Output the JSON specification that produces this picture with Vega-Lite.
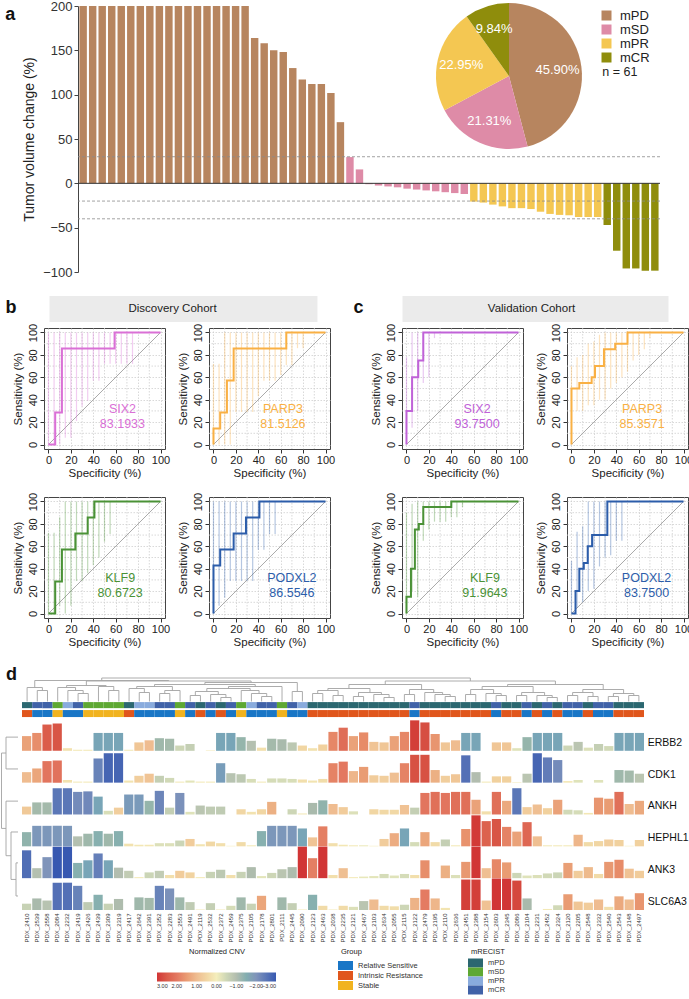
{
"$schema": "https://vega.github.io/schema/vega-lite/v6.json",
"padding": {"left": 0, "top": 0, "right": 0, "bottom": 0},
"config": {"font": "Liberation Sans", "view": {"stroke": null}, "axis": {"labelOverlap": false}},
"resolve": {"scale": {"color": "independent"}, "legend": {"color": "independent"}},
"spacing": 17,
"datasets": {
"wf": [
{"id":"W01","v":200,"r":"mPD"},{"id":"W02","v":200,"r":"mPD"},{"id":"W03","v":200,"r":"mPD"},{"id":"W04","v":200,"r":"mPD"},{"id":"W05","v":200,"r":"mPD"},{"id":"W06","v":200,"r":"mPD"},{"id":"W07","v":200,"r":"mPD"},{"id":"W08","v":200,"r":"mPD"},{"id":"W09","v":200,"r":"mPD"},{"id":"W10","v":200,"r":"mPD"},{"id":"W11","v":200,"r":"mPD"},{"id":"W12","v":200,"r":"mPD"},{"id":"W13","v":200,"r":"mPD"},{"id":"W14","v":200,"r":"mPD"},{"id":"W15","v":200,"r":"mPD"},{"id":"W16","v":200,"r":"mPD"},{"id":"W17","v":200,"r":"mPD"},{"id":"W18","v":200,"r":"mPD"},
{"id":"W19","v":164,"r":"mPD"},{"id":"W20","v":158,"r":"mPD"},{"id":"W21","v":150,"r":"mPD"},{"id":"W22","v":148,"r":"mPD"},{"id":"W23","v":130,"r":"mPD"},{"id":"W24","v":117,"r":"mPD"},{"id":"W25","v":112,"r":"mPD"},{"id":"W26","v":112,"r":"mPD"},{"id":"W27","v":102,"r":"mPD"},{"id":"W28","v":69,"r":"mPD"},
{"id":"W29","v":29.6,"r":"mSD"},{"id":"W30","v":15.7,"r":"mSD"},{"id":"W31","v":-1,"r":"mSD"},{"id":"W32","v":-2.5,"r":"mSD"},{"id":"W33","v":-3.5,"r":"mSD"},{"id":"W34","v":-4.5,"r":"mSD"},{"id":"W35","v":-6,"r":"mSD"},{"id":"W36","v":-7,"r":"mSD"},{"id":"W37","v":-8,"r":"mSD"},{"id":"W38","v":-9,"r":"mSD"},{"id":"W39","v":-10,"r":"mSD"},{"id":"W40","v":-11,"r":"mSD"},{"id":"W41","v":-12,"r":"mSD"},
{"id":"W42","v":-20.6,"r":"mPR"},{"id":"W43","v":-21.7,"r":"mPR"},{"id":"W44","v":-24,"r":"mPR"},{"id":"W45","v":-26,"r":"mPR"},{"id":"W46","v":-28,"r":"mPR"},{"id":"W47","v":-28,"r":"mPR"},{"id":"W48","v":-29,"r":"mPR"},{"id":"W49","v":-32,"r":"mPR"},{"id":"W50","v":-34.5,"r":"mPR"},{"id":"W51","v":-35.6,"r":"mPR"},{"id":"W52","v":-36,"r":"mPR"},{"id":"W53","v":-38,"r":"mPR"},{"id":"W54","v":-38,"r":"mPR"},{"id":"W55","v":-38,"r":"mPR"},
{"id":"W56","v":-47,"r":"mCR"},{"id":"W57","v":-76,"r":"mCR"},{"id":"W58","v":-96,"r":"mCR"},{"id":"W59","v":-96,"r":"mCR"},{"id":"W60","v":-98.5,"r":"mCR"},{"id":"W61","v":-98.5,"r":"mCR"}
],
"cuts": [{"cut":30},{"cut":-20},{"cut":-40}],
"minor": [{"gv":10},{"gv":30},{"gv":50},{"gv":70},{"gv":90}],
"pie": [{"r":"mPD","p":0.459,"o":1},{"r":"mSD","p":0.2131,"o":2},{"r":"mPR","p":0.2295,"o":3},{"r":"mCR","p":0.0984,"o":4}],
"rocD": [
{"g":"SIX2","k":"a","auc":"83.1933"},
{"g":"SIX2","k":"c","x":0,"y":0},{"g":"SIX2","k":"c","x":6,"y":0},{"g":"SIX2","k":"c","x":6,"y":28.6},{"g":"SIX2","k":"c","x":12,"y":28.6},{"g":"SIX2","k":"c","x":12,"y":85.7},{"g":"SIX2","k":"c","x":59,"y":85.7},{"g":"SIX2","k":"c","x":59,"y":100},{"g":"SIX2","k":"c","x":100,"y":100},
{"g":"SIX2","k":"ci","x":0,"lo":0,"hi":100},{"g":"SIX2","k":"ci","x":5,"lo":0,"hi":100},{"g":"SIX2","k":"ci","x":10,"lo":0,"hi":100},{"g":"SIX2","k":"ci","x":15,"lo":6,"hi":100},{"g":"SIX2","k":"ci","x":20,"lo":6,"hi":100},{"g":"SIX2","k":"ci","x":25,"lo":21,"hi":100},{"g":"SIX2","k":"ci","x":30,"lo":34,"hi":100},{"g":"SIX2","k":"ci","x":35,"lo":39,"hi":100},{"g":"SIX2","k":"ci","x":40,"lo":57,"hi":100},{"g":"SIX2","k":"ci","x":45,"lo":57,"hi":100},{"g":"SIX2","k":"ci","x":50,"lo":72,"hi":100},{"g":"SIX2","k":"ci","x":55,"lo":72,"hi":100},{"g":"SIX2","k":"ci","x":60,"lo":72,"hi":100},{"g":"SIX2","k":"ci","x":65,"lo":72,"hi":100},{"g":"SIX2","k":"ci","x":70,"lo":72,"hi":100},{"g":"SIX2","k":"ci","x":75,"lo":72,"hi":100},
{"g":"PARP3","k":"a","auc":"81.5126"},
{"g":"PARP3","k":"c","x":0,"y":0},{"g":"PARP3","k":"c","x":0,"y":14.3},{"g":"PARP3","k":"c","x":6,"y":14.3},{"g":"PARP3","k":"c","x":6,"y":28.6},{"g":"PARP3","k":"c","x":12,"y":28.6},{"g":"PARP3","k":"c","x":12,"y":57.1},{"g":"PARP3","k":"c","x":18,"y":57.1},{"g":"PARP3","k":"c","x":18,"y":85.7},{"g":"PARP3","k":"c","x":65,"y":85.7},{"g":"PARP3","k":"c","x":65,"y":100},{"g":"PARP3","k":"c","x":100,"y":100},
{"g":"PARP3","k":"ci","x":0,"lo":0,"hi":72},{"g":"PARP3","k":"ci","x":5,"lo":0,"hi":72},{"g":"PARP3","k":"ci","x":10,"lo":0,"hi":100},{"g":"PARP3","k":"ci","x":15,"lo":0,"hi":100},{"g":"PARP3","k":"ci","x":20,"lo":29,"hi":100},{"g":"PARP3","k":"ci","x":25,"lo":29,"hi":100},{"g":"PARP3","k":"ci","x":30,"lo":29,"hi":100},{"g":"PARP3","k":"ci","x":35,"lo":29,"hi":100},{"g":"PARP3","k":"ci","x":40,"lo":43,"hi":100},{"g":"PARP3","k":"ci","x":45,"lo":57,"hi":100},{"g":"PARP3","k":"ci","x":50,"lo":57,"hi":100},{"g":"PARP3","k":"ci","x":55,"lo":57,"hi":100},{"g":"PARP3","k":"ci","x":60,"lo":62,"hi":100},{"g":"PARP3","k":"ci","x":65,"lo":71,"hi":100},{"g":"PARP3","k":"ci","x":70,"lo":71,"hi":100},{"g":"PARP3","k":"ci","x":75,"lo":86,"hi":100},{"g":"PARP3","k":"ci","x":80,"lo":86,"hi":100},
{"g":"KLF9","k":"a","auc":"80.6723"},
{"g":"KLF9","k":"c","x":0,"y":0},{"g":"KLF9","k":"c","x":6,"y":0},{"g":"KLF9","k":"c","x":6,"y":28.6},{"g":"KLF9","k":"c","x":12,"y":28.6},{"g":"KLF9","k":"c","x":12,"y":57.1},{"g":"KLF9","k":"c","x":24,"y":57.1},{"g":"KLF9","k":"c","x":24,"y":71.4},{"g":"KLF9","k":"c","x":35,"y":71.4},{"g":"KLF9","k":"c","x":35,"y":85.7},{"g":"KLF9","k":"c","x":41,"y":85.7},{"g":"KLF9","k":"c","x":41,"y":100},{"g":"KLF9","k":"c","x":100,"y":100},
{"g":"KLF9","k":"ci","x":0,"lo":0,"hi":72},{"g":"KLF9","k":"ci","x":5,"lo":0,"hi":72},{"g":"KLF9","k":"ci","x":10,"lo":7,"hi":86},{"g":"KLF9","k":"ci","x":15,"lo":0,"hi":100},{"g":"KLF9","k":"ci","x":20,"lo":7,"hi":100},{"g":"KLF9","k":"ci","x":25,"lo":29,"hi":100},{"g":"KLF9","k":"ci","x":30,"lo":29,"hi":100},{"g":"KLF9","k":"ci","x":35,"lo":36,"hi":100},{"g":"KLF9","k":"ci","x":40,"lo":43,"hi":100},{"g":"KLF9","k":"ci","x":45,"lo":50,"hi":100},{"g":"KLF9","k":"ci","x":50,"lo":64,"hi":100},{"g":"KLF9","k":"ci","x":55,"lo":71,"hi":100},
{"g":"PODXL2","k":"a","auc":"86.5546"},
{"g":"PODXL2","k":"c","x":0,"y":0},{"g":"PODXL2","k":"c","x":0,"y":42.9},{"g":"PODXL2","k":"c","x":6,"y":42.9},{"g":"PODXL2","k":"c","x":6,"y":57.1},{"g":"PODXL2","k":"c","x":18,"y":57.1},{"g":"PODXL2","k":"c","x":18,"y":71.4},{"g":"PODXL2","k":"c","x":29,"y":71.4},{"g":"PODXL2","k":"c","x":29,"y":85.7},{"g":"PODXL2","k":"c","x":41,"y":85.7},{"g":"PODXL2","k":"c","x":41,"y":100},{"g":"PODXL2","k":"c","x":100,"y":100},
{"g":"PODXL2","k":"ci","x":0,"lo":0,"hi":100},{"g":"PODXL2","k":"ci","x":5,"lo":7,"hi":100},{"g":"PODXL2","k":"ci","x":10,"lo":14,"hi":100},{"g":"PODXL2","k":"ci","x":15,"lo":29,"hi":100},{"g":"PODXL2","k":"ci","x":20,"lo":29,"hi":100},{"g":"PODXL2","k":"ci","x":25,"lo":29,"hi":100},{"g":"PODXL2","k":"ci","x":30,"lo":29,"hi":100},{"g":"PODXL2","k":"ci","x":35,"lo":29,"hi":100},{"g":"PODXL2","k":"ci","x":40,"lo":57,"hi":100},{"g":"PODXL2","k":"ci","x":45,"lo":57,"hi":100},{"g":"PODXL2","k":"ci","x":50,"lo":71,"hi":100},{"g":"PODXL2","k":"ci","x":55,"lo":71,"hi":100}
],
"rocV": [
{"g":"SIX2","k":"a","auc":"93.7500"},
{"g":"SIX2","k":"c","x":0,"y":0},{"g":"SIX2","k":"c","x":0,"y":30},{"g":"SIX2","k":"c","x":5,"y":30},{"g":"SIX2","k":"c","x":5,"y":60},{"g":"SIX2","k":"c","x":10.5,"y":60},{"g":"SIX2","k":"c","x":10.5,"y":75},{"g":"SIX2","k":"c","x":15,"y":75},{"g":"SIX2","k":"c","x":15,"y":100},{"g":"SIX2","k":"c","x":100,"y":100},
{"g":"SIX2","k":"ci","x":0,"lo":15,"hi":78},{"g":"SIX2","k":"ci","x":5,"lo":15,"hi":100},{"g":"SIX2","k":"ci","x":10,"lo":30,"hi":100},{"g":"SIX2","k":"ci","x":15,"lo":55,"hi":100},{"g":"SIX2","k":"ci","x":20,"lo":60,"hi":100},{"g":"SIX2","k":"ci","x":25,"lo":95,"hi":100},
{"g":"PARP3","k":"a","auc":"85.3571"},
{"g":"PARP3","k":"c","x":0,"y":0},{"g":"PARP3","k":"c","x":0,"y":50},{"g":"PARP3","k":"c","x":7,"y":50},{"g":"PARP3","k":"c","x":7,"y":55},{"g":"PARP3","k":"c","x":18,"y":55},{"g":"PARP3","k":"c","x":18,"y":60},{"g":"PARP3","k":"c","x":21,"y":60},{"g":"PARP3","k":"c","x":21,"y":70},{"g":"PARP3","k":"c","x":29,"y":70},{"g":"PARP3","k":"c","x":29,"y":85},{"g":"PARP3","k":"c","x":39,"y":85},{"g":"PARP3","k":"c","x":39,"y":90},{"g":"PARP3","k":"c","x":50,"y":90},{"g":"PARP3","k":"c","x":50,"y":100},{"g":"PARP3","k":"c","x":100,"y":100},
{"g":"PARP3","k":"ci","x":0,"lo":30,"hi":70},{"g":"PARP3","k":"ci","x":5,"lo":30,"hi":78},{"g":"PARP3","k":"ci","x":10,"lo":30,"hi":80},{"g":"PARP3","k":"ci","x":15,"lo":35,"hi":90},{"g":"PARP3","k":"ci","x":20,"lo":35,"hi":92},{"g":"PARP3","k":"ci","x":25,"lo":40,"hi":98},{"g":"PARP3","k":"ci","x":30,"lo":40,"hi":100},{"g":"PARP3","k":"ci","x":35,"lo":50,"hi":100},{"g":"PARP3","k":"ci","x":40,"lo":55,"hi":100},{"g":"PARP3","k":"ci","x":45,"lo":60,"hi":100},{"g":"PARP3","k":"ci","x":50,"lo":65,"hi":100},{"g":"PARP3","k":"ci","x":55,"lo":75,"hi":100},{"g":"PARP3","k":"ci","x":60,"lo":80,"hi":100},{"g":"PARP3","k":"ci","x":65,"lo":85,"hi":100},{"g":"PARP3","k":"ci","x":70,"lo":95,"hi":100},
{"g":"KLF9","k":"a","auc":"91.9643"},
{"g":"KLF9","k":"c","x":0,"y":0},{"g":"KLF9","k":"c","x":0,"y":15},{"g":"KLF9","k":"c","x":4,"y":15},{"g":"KLF9","k":"c","x":4,"y":40},{"g":"KLF9","k":"c","x":7.5,"y":40},{"g":"KLF9","k":"c","x":7.5,"y":75},{"g":"KLF9","k":"c","x":11,"y":75},{"g":"KLF9","k":"c","x":11,"y":80},{"g":"KLF9","k":"c","x":15,"y":80},{"g":"KLF9","k":"c","x":15,"y":95},{"g":"KLF9","k":"c","x":40,"y":95},{"g":"KLF9","k":"c","x":40,"y":100},{"g":"KLF9","k":"c","x":100,"y":100},
{"g":"KLF9","k":"ci","x":0,"lo":0,"hi":90},{"g":"KLF9","k":"ci","x":5,"lo":20,"hi":98},{"g":"KLF9","k":"ci","x":10,"lo":15,"hi":100},{"g":"KLF9","k":"ci","x":15,"lo":65,"hi":100},{"g":"KLF9","k":"ci","x":20,"lo":75,"hi":100},{"g":"KLF9","k":"ci","x":25,"lo":82,"hi":100},{"g":"KLF9","k":"ci","x":30,"lo":82,"hi":100},{"g":"KLF9","k":"ci","x":35,"lo":82,"hi":100},{"g":"KLF9","k":"ci","x":40,"lo":86,"hi":100},{"g":"KLF9","k":"ci","x":45,"lo":86,"hi":100},{"g":"KLF9","k":"ci","x":50,"lo":95,"hi":100},
{"g":"PODXL2","k":"a","auc":"83.7500"},
{"g":"PODXL2","k":"c","x":0,"y":0},{"g":"PODXL2","k":"c","x":3.6,"y":0},{"g":"PODXL2","k":"c","x":3.6,"y":20},{"g":"PODXL2","k":"c","x":7,"y":20},{"g":"PODXL2","k":"c","x":7,"y":40},{"g":"PODXL2","k":"c","x":11,"y":40},{"g":"PODXL2","k":"c","x":11,"y":45},{"g":"PODXL2","k":"c","x":14.5,"y":45},{"g":"PODXL2","k":"c","x":14.5,"y":60},{"g":"PODXL2","k":"c","x":18.4,"y":60},{"g":"PODXL2","k":"c","x":18.4,"y":70},{"g":"PODXL2","k":"c","x":32,"y":70},{"g":"PODXL2","k":"c","x":32,"y":100},{"g":"PODXL2","k":"c","x":100,"y":100},
{"g":"PODXL2","k":"ci","x":0,"lo":0,"hi":47},{"g":"PODXL2","k":"ci","x":5,"lo":5,"hi":73},{"g":"PODXL2","k":"ci","x":10,"lo":10,"hi":78},{"g":"PODXL2","k":"ci","x":15,"lo":20,"hi":100},{"g":"PODXL2","k":"ci","x":20,"lo":22,"hi":100},{"g":"PODXL2","k":"ci","x":25,"lo":42,"hi":100},{"g":"PODXL2","k":"ci","x":30,"lo":50,"hi":100},{"g":"PODXL2","k":"ci","x":35,"lo":52,"hi":100},{"g":"PODXL2","k":"ci","x":40,"lo":65,"hi":100},{"g":"PODXL2","k":"ci","x":45,"lo":65,"hi":100}
],
"hm": [
{"s":"PDX_2410","m":"mPD","grp":"Intrinsic Resistance","ERBB2":1.4,"CDK1":1.0,"ANKH":0.75,"HEPHL1":-1.35,"ANK3":-2.65,"SLC6A3":-0.6},
{"s":"PDX_2539","m":"mCR","grp":"Relative Sensitive","ERBB2":1.7,"CDK1":1.35,"ANKH":-1.15,"HEPHL1":-1.95,"ANK3":-0.95,"SLC6A3":-1.1},
{"s":"PDX_2558","m":"mCR","grp":"Relative Sensitive","ERBB2":2.5,"CDK1":2.05,"ANKH":-1.15,"HEPHL1":-1.95,"ANK3":-2.0,"SLC6A3":-0.9},
{"s":"PDX_2084","m":"mSD","grp":"Stable","ERBB2":2.6,"CDK1":2.1,"ANKH":-2.5,"HEPHL1":-1.95,"ANK3":-3.0,"SLC6A3":-2.6},
{"s":"PDX_2232","m":"mPR","grp":"Relative Sensitive","ERBB2":0.25,"CDK1":0.25,"ANKH":-2.5,"HEPHL1":-1.95,"ANK3":-3.0,"SLC6A3":-2.6},
{"s":"PDX_2419","m":"mCR","grp":"Relative Sensitive","ERBB2":0.1,"CDK1":0.1,"ANKH":-2.15,"HEPHL1":-0.95,"ANK3":-1.45,"SLC6A3":-2.3},
{"s":"PDX_2426","m":"mSD","grp":"Stable","ERBB2":0.1,"CDK1":0.1,"ANKH":-2.2,"HEPHL1":-1.2,"ANK3":-1.7,"SLC6A3":-0.75},
{"s":"PDX_2439","m":"mSD","grp":"Stable","ERBB2":-1.7,"CDK1":-2.3,"ANKH":-1.7,"HEPHL1":-1.45,"ANK3":-2.35,"SLC6A3":-1.45},
{"s":"PDX_2309","m":"mSD","grp":"Stable","ERBB2":-1.7,"CDK1":-2.8,"ANKH":-0.35,"HEPHL1":-1.2,"ANK3":-1.7,"SLC6A3":-0.6},
{"s":"PDX_2319","m":"mSD","grp":"Stable","ERBB2":-1.7,"CDK1":-2.8,"ANKH":0.65,"HEPHL1":-1.45,"ANK3":-1.0,"SLC6A3":-1.05},
{"s":"PDX_2417","m":"mPD","grp":"Intrinsic Resistance","ERBB2":0.1,"CDK1":0.2,"ANKH":-1.9,"HEPHL1":0.25,"ANK3":-0.7,"SLC6A3":0},
{"s":"PDX_2642","m":"mPR","grp":"Relative Sensitive","ERBB2":0.8,"CDK1":0.65,"ANKH":-1.9,"HEPHL1":0.15,"ANK3":0.1,"SLC6A3":-1.2},
{"s":"PDX_2391","m":"mPR","grp":"Relative Sensitive","ERBB2":1.0,"CDK1":0.85,"ANKH":-1.3,"HEPHL1":0.15,"ANK3":-0.55,"SLC6A3":-1.15},
{"s":"PDX_2352","m":"mCR","grp":"Relative Sensitive","ERBB2":-1.2,"CDK1":-0.65,"ANKH":-2.25,"HEPHL1":-0.3,"ANK3":-0.7,"SLC6A3":-2.3},
{"s":"PDX_2283","m":"mCR","grp":"Relative Sensitive","ERBB2":-1.15,"CDK1":-0.45,"ANKH":-0.65,"HEPHL1":-0.3,"ANK3":0.3,"SLC6A3":-2.05},
{"s":"PDX_2553","m":"mSD","grp":"Stable","ERBB2":-0.5,"CDK1":0.1,"ANKH":-2.05,"HEPHL1":-0.55,"ANK3":0.7,"SLC6A3":-1.2},
{"s":"PDX_2491","m":"mCR","grp":"Relative Sensitive","ERBB2":-0.65,"CDK1":-0.2,"ANKH":-0.25,"HEPHL1":0.7,"ANK3":0.55,"SLC6A3":-0.75},
{"s":"PDX_2119","m":"mPD","grp":"Intrinsic Resistance","ERBB2":0,"CDK1":0.1,"ANKH":-0.85,"HEPHL1":0.2,"ANK3":0.1,"SLC6A3":0.05},
{"s":"PDX_2532","m":"mCR","grp":"Relative Sensitive","ERBB2":0.05,"CDK1":0.1,"ANKH":-0.75,"HEPHL1":0.45,"ANK3":-0.6,"SLC6A3":-0.65},
{"s":"PDX_2372","m":"mPD","grp":"Intrinsic Resistance","ERBB2":-1.7,"CDK1":-1.85,"ANKH":-0.75,"HEPHL1":0.3,"ANK3":-0.8,"SLC6A3":0.05},
{"s":"PDX_2459","m":"mCR","grp":"Relative Sensitive","ERBB2":-1.7,"CDK1":-0.9,"ANKH":0,"HEPHL1":0.05,"ANK3":0.3,"SLC6A3":-0.4},
{"s":"PDX_2375","m":"mSD","grp":"Stable","ERBB2":-1.3,"CDK1":-0.8,"ANKH":0.5,"HEPHL1":0.4,"ANK3":-0.6,"SLC6A3":-1.2},
{"s":"PDX_2105","m":"mPR","grp":"Relative Sensitive","ERBB2":-0.95,"CDK1":-0.35,"ANKH":0.25,"HEPHL1":0.1,"ANK3":-1.05,"SLC6A3":-0.6},
{"s":"PDX_2178","m":"mCR","grp":"Relative Sensitive","ERBB2":0.3,"CDK1":0.1,"ANKH":0.5,"HEPHL1":-1.45,"ANK3":-0.2,"SLC6A3":1.35},
{"s":"PDX_2801","m":"mCR","grp":"Relative Sensitive","ERBB2":-1.15,"CDK1":-0.4,"ANKH":1.2,"HEPHL1":-1.95,"ANK3":-0.5,"SLC6A3":0},
{"s":"PDX_2111","m":"mSD","grp":"Stable","ERBB2":-1.1,"CDK1":-0.4,"ANKH":0,"HEPHL1":-1.95,"ANK3":-0.85,"SLC6A3":-1.2},
{"s":"PDX_2445","m":"mCR","grp":"Relative Sensitive","ERBB2":-0.8,"CDK1":-0.35,"ANKH":-0.5,"HEPHL1":-1.95,"ANK3":-1.05,"SLC6A3":-0.65},
{"s":"PDX_2090","m":"mPR","grp":"Relative Sensitive","ERBB2":0.5,"CDK1":0.3,"ANKH":0.1,"HEPHL1":-1.7,"ANK3":3.0,"SLC6A3":0.05},
{"s":"PDX_2123","m":"mPD","grp":"Intrinsic Resistance","ERBB2":0.25,"CDK1":0.2,"ANKH":-1.1,"HEPHL1":0.85,"ANK3":1.9,"SLC6A3":-1.45},
{"s":"PDX_2463","m":"mPD","grp":"Intrinsic Resistance","ERBB2":0.6,"CDK1":0.35,"ANKH":-1.35,"HEPHL1":1.9,"ANK3":3.0,"SLC6A3":0.4},
{"s":"PDX_2038","m":"mPD","grp":"Intrinsic Resistance","ERBB2":1.8,"CDK1":1.85,"ANKH":1.0,"HEPHL1":0.3,"ANK3":0.3,"SLC6A3":0.05},
{"s":"PDX_2235","m":"mPD","grp":"Intrinsic Resistance","ERBB2":2.2,"CDK1":2.0,"ANKH":0.7,"HEPHL1":0.15,"ANK3":0.95,"SLC6A3":0.4},
{"s":"PDX_2121","m":"mPD","grp":"Intrinsic Resistance","ERBB2":1.4,"CDK1":1.1,"ANKH":-0.3,"HEPHL1":0.1,"ANK3":0.1,"SLC6A3":-0.3},
{"s":"PDX_2467","m":"mPD","grp":"Intrinsic Resistance","ERBB2":1.75,"CDK1":1.5,"ANKH":0,"HEPHL1":-0.1,"ANK3":-0.15,"SLC6A3":-0.85},
{"s":"PDX_2103","m":"mPD","grp":"Intrinsic Resistance","ERBB2":0.85,"CDK1":0.7,"ANKH":0.5,"HEPHL1":0.05,"ANK3":-0.2,"SLC6A3":1.0},
{"s":"PDX_2634","m":"mPD","grp":"Intrinsic Resistance","ERBB2":0.8,"CDK1":0.65,"ANKH":0.45,"HEPHL1":0.7,"ANK3":-0.4,"SLC6A3":0.4},
{"s":"PDX_2055","m":"mPD","grp":"Intrinsic Resistance","ERBB2":1.4,"CDK1":0.95,"ANKH":0.45,"HEPHL1":1.25,"ANK3":-0.25,"SLC6A3":0.35},
{"s":"PDX_2115","m":"mPD","grp":"Intrinsic Resistance","ERBB2":1.8,"CDK1":1.85,"ANKH":0.9,"HEPHL1":-1.7,"ANK3":-0.4,"SLC6A3":-0.5},
{"s":"PDX_2122","m":"mCR","grp":"Relative Sensitive","ERBB2":2.9,"CDK1":2.65,"ANKH":-0.65,"HEPHL1":-0.4,"ANK3":0.3,"SLC6A3":1.15},
{"s":"PDX_2479","m":"mPD","grp":"Intrinsic Resistance","ERBB2":2.7,"CDK1":2.65,"ANKH":2.05,"HEPHL1":1.35,"ANK3":1.7,"SLC6A3":1.95},
{"s":"PDX_2195","m":"mPD","grp":"Intrinsic Resistance","ERBB2":1.6,"CDK1":1.2,"ANKH":2.15,"HEPHL1":0.4,"ANK3":0,"SLC6A3":1.1},
{"s":"PDX_2110","m":"mPD","grp":"Intrinsic Resistance","ERBB2":0.8,"CDK1":0.65,"ANKH":2.05,"HEPHL1":-0.65,"ANK3":1.2,"SLC6A3":0.2},
{"s":"PDX_2636","m":"mPD","grp":"Intrinsic Resistance","ERBB2":1.0,"CDK1":0.8,"ANKH":2.15,"HEPHL1":0.1,"ANK3":-0.3,"SLC6A3":0},
{"s":"PDX_2451","m":"mPD","grp":"Intrinsic Resistance","ERBB2":-1.7,"CDK1":-2.6,"ANKH":2.15,"HEPHL1":1.65,"ANK3":1.55,"SLC6A3":2.9},
{"s":"PDX_2388","m":"mPD","grp":"Intrinsic Resistance","ERBB2":-1.7,"CDK1":-1.0,"ANKH":1.4,"HEPHL1":2.95,"ANK3":3.0,"SLC6A3":2.9},
{"s":"PDX_2154","m":"mPD","grp":"Intrinsic Resistance","ERBB2":0,"CDK1":0.1,"ANKH":0.3,"HEPHL1":2.4,"ANK3":0.95,"SLC6A3":0.9},
{"s":"PDX_2603","m":"mCR","grp":"Relative Sensitive","ERBB2":0.8,"CDK1":0.6,"ANKH":2.15,"HEPHL1":2.6,"ANK3":1.8,"SLC6A3":3.0},
{"s":"PDX_2345","m":"mPD","grp":"Intrinsic Resistance","ERBB2":0.8,"CDK1":0.6,"ANKH":1.3,"HEPHL1":1.85,"ANK3":1.5,"SLC6A3":3.0},
{"s":"PDX_2086","m":"mPD","grp":"Intrinsic Resistance","ERBB2":-0.25,"CDK1":0.05,"ANKH":-2.5,"HEPHL1":1.4,"ANK3":-0.5,"SLC6A3":2.8},
{"s":"PDX_2104","m":"mCR","grp":"Relative Sensitive","ERBB2":-1.3,"CDK1":-0.85,"ANKH":0.7,"HEPHL1":2.3,"ANK3":-0.25,"SLC6A3":-1.1},
{"s":"PDX_2231","m":"mPD","grp":"Intrinsic Resistance","ERBB2":-1.7,"CDK1":-2.8,"ANKH":0.95,"HEPHL1":0.95,"ANK3":-0.3,"SLC6A3":0},
{"s":"PDX_2452","m":"mCR","grp":"Relative Sensitive","ERBB2":-1.7,"CDK1":-2.4,"ANKH":0.6,"HEPHL1":0.1,"ANK3":-0.45,"SLC6A3":0.1},
{"s":"PDX_2324","m":"mPD","grp":"Intrinsic Resistance","ERBB2":-1.7,"CDK1":-2.15,"ANKH":1.4,"HEPHL1":0.1,"ANK3":-0.55,"SLC6A3":-0.45},
{"s":"PDX_2120","m":"mCR","grp":"Relative Sensitive","ERBB2":-0.5,"CDK1":0.15,"ANKH":-0.45,"HEPHL1":0.1,"ANK3":1.45,"SLC6A3":1.5},
{"s":"PDX_2205","m":"mCR","grp":"Relative Sensitive","ERBB2":-0.85,"CDK1":-0.25,"ANKH":-0.4,"HEPHL1":1.1,"ANK3":0.7,"SLC6A3":0.8},
{"s":"PDX_2548","m":"mPD","grp":"Intrinsic Resistance","ERBB2":-0.3,"CDK1":0,"ANKH":0.15,"HEPHL1":0.4,"ANK3":1.05,"SLC6A3":0.7},
{"s":"PDX_2332","m":"mCR","grp":"Relative Sensitive","ERBB2":-0.65,"CDK1":-0.25,"ANKH":1.6,"HEPHL1":0.5,"ANK3":0.4,"SLC6A3":1.0},
{"s":"PDX_2540","m":"mCR","grp":"Relative Sensitive","ERBB2":-0.45,"CDK1":0,"ANKH":1.5,"HEPHL1":0.65,"ANK3":1.55,"SLC6A3":0.3},
{"s":"PDX_2543","m":"mPD","grp":"Intrinsic Resistance","ERBB2":-1.7,"CDK1":-1.2,"ANKH":2.15,"HEPHL1":0.6,"ANK3":1.75,"SLC6A3":1.3},
{"s":"PDX_2148","m":"mPD","grp":"Intrinsic Resistance","ERBB2":-1.7,"CDK1":-1.15,"ANKH":1.0,"HEPHL1":0.05,"ANK3":0.9,"SLC6A3":1.0},
{"s":"PDX_2497","m":"mPD","grp":"Intrinsic Resistance","ERBB2":-1.7,"CDK1":-0.85,"ANKH":1.3,"HEPHL1":0.6,"ANK3":0.7,"SLC6A3":1.6}
],
"cd": [
{"a":1,"ha":0,"b":2,"hb":0,"h":11},{"a":0,"ha":0,"b":1.5,"hb":11,"h":14},{"a":5,"ha":0,"b":6,"hb":0,"h":8},{"a":4,"ha":0,"b":5.5,"hb":8,"h":11},{"a":3,"ha":0,"b":4.75,"hb":11,"h":14},{"a":8,"ha":0,"b":9,"hb":0,"h":11},{"a":7,"ha":0,"b":8.5,"hb":11,"h":15},{"a":3.875,"ha":14,"b":7.75,"hb":15,"h":16},
{"a":11,"ha":0,"b":12,"hb":0,"h":9},{"a":10,"ha":0,"b":11.5,"hb":9,"h":13},{"a":13,"ha":0,"b":14,"hb":0,"h":8},{"a":13.5,"ha":8,"b":15,"hb":0,"h":11},{"a":10.75,"ha":13,"b":14.25,"hb":11,"h":15},
{"a":16,"ha":0,"b":17,"hb":0,"h":6},{"a":19,"ha":0,"b":20,"hb":0,"h":4},{"a":18,"ha":0,"b":19.5,"hb":4,"h":7},{"a":16.5,"ha":6,"b":18.75,"hb":7,"h":10},
{"a":23,"ha":0,"b":24,"hb":0,"h":5},{"a":22,"ha":0,"b":23.5,"hb":5,"h":8},{"a":21,"ha":0,"b":22.75,"hb":8,"h":11},{"a":17.625,"ha":10,"b":21.875,"hb":11,"h":13},{"a":19.75,"ha":13,"b":25,"hb":0,"h":15},{"a":12.5,"ha":15,"b":22.375,"hb":15,"h":17},
{"a":26,"ha":0,"b":27,"hb":0,"h":10},{"a":17.4375,"ha":17,"b":26.5,"hb":10,"h":19},{"a":5.8125,"ha":16,"b":21.96875,"hb":19,"h":20.5},{"a":0.75,"ha":14,"b":13.890625,"hb":20.5,"h":21},
{"a":28,"ha":0,"b":29,"hb":0,"h":8},{"a":30,"ha":0,"b":31,"hb":0,"h":6},{"a":28.5,"ha":8,"b":30.5,"hb":6,"h":11},{"a":32,"ha":0,"b":33,"hb":0,"h":5},{"a":35,"ha":0,"b":36,"hb":0,"h":4},{"a":34,"ha":0,"b":35.5,"hb":4,"h":7},{"a":32.5,"ha":5,"b":34.75,"hb":7,"h":9},{"a":29.5,"ha":11,"b":33.625,"hb":9,"h":13},
{"a":37,"ha":0,"b":38,"hb":0,"h":7},{"a":41,"ha":0,"b":42,"hb":0,"h":5},{"a":40,"ha":0,"b":41.5,"hb":5,"h":7},{"a":39,"ha":0,"b":40.75,"hb":7,"h":9},{"a":37.5,"ha":7,"b":39.875,"hb":9,"h":12},{"a":31.5625,"ha":13,"b":38.6875,"hb":12,"h":17},
{"a":43,"ha":0,"b":44,"hb":0,"h":7},{"a":46,"ha":0,"b":47,"hb":0,"h":6},{"a":45,"ha":0,"b":46.5,"hb":6,"h":8},{"a":43.5,"ha":7,"b":45.75,"hb":8,"h":12},{"a":48,"ha":0,"b":49,"hb":0,"h":6},{"a":51,"ha":0,"b":52,"hb":0,"h":4},{"a":50,"ha":0,"b":51.5,"hb":4,"h":6},{"a":48.5,"ha":6,"b":50.75,"hb":6,"h":9},{"a":44.625,"ha":12,"b":49.625,"hb":9,"h":15},
{"a":53,"ha":0,"b":54,"hb":0,"h":6},{"a":55,"ha":0,"b":56,"hb":0,"h":5},{"a":53.5,"ha":6,"b":55.5,"hb":5,"h":9},{"a":57,"ha":0,"b":58,"hb":0,"h":5},{"a":59,"ha":0,"b":60,"hb":0,"h":6},{"a":57.5,"ha":5,"b":59.5,"hb":6,"h":8},{"a":54.5,"ha":9,"b":58.5,"hb":8,"h":12},{"a":47.125,"ha":15,"b":56.5,"hb":12,"h":17},
{"a":35.125,"ha":17,"b":51.8125,"hb":17,"h":20.5},{"a":7.3203,"ha":21,"b":43.46875,"hb":20.5,"h":23.5}
],
"rd": [
{"a":5.43,"ha":0,"b":4.43,"hb":0,"h":12},{"a":1.48,"ha":0,"b":0.44,"hb":0,"h":2},{"a":2.45,"ha":0,"b":0.96,"hb":2,"h":7},{"a":3.42,"ha":0,"b":1.705,"hb":7,"h":12},{"a":4.93,"ha":12,"b":2.5625,"hb":12,"h":16.5}
]
},
"vconcat": [
{"spacing": 4, "resolve": {"scale": {"color": "independent"}, "legend": {"color": "independent"}}, "hconcat": [
{"width": 1, "height": 1, "data": {"values": []}, "mark": {"type": "point"}, "encoding": {}},
{
"width": 582, "height": 266,
"resolve": {"scale": {"x": "independent", "y": "independent"}},
"layer": [
{"layer": [
{"data": {"name": "wf"}, "mark": {"type": "bar"},
"encoding": {
"x": {"field": "id", "type": "nominal", "sort": null, "axis": null, "scale": {"paddingInner": 0.22, "paddingOuter": 0.15}},
"y": {"field": "v", "type": "quantitative", "scale": {"domain": [-100, 200], "nice": false},
"axis": {"values": [-100, -50, 0, 50, 100, 150, 200], "tickCount": 12, "title": "Tumor volume change (%)", "titleFontSize": 14, "titleFontWeight": "normal", "titleColor": "#222", "labelFontSize": 13, "labelColor": "#333", "domainColor": "#444", "tickColor": "#444", "tickSize": 4, "grid": false, "titlePadding": 6}},
"color": {"field": "r", "type": "nominal", "scale": {"domain": ["mPD", "mSD", "mPR", "mCR"], "range": ["#B7855F", "#DE8BA7", "#F4C752", "#8F8D0C"]},
"legend": {"title": null, "orient": "none", "legendX": 522, "legendY": 3, "direction": "vertical", "symbolType": "square", "symbolSize": 100, "labelFontSize": 13, "labelColor": "#222", "rowPadding": -1.5, "symbolStrokeWidth": 0, "labelOffset": 7}}
}},
{"data": {"name": "cuts"}, "mark": {"type": "rule", "strokeDash": [3, 2], "color": "#8c8c8c", "strokeWidth": 0.8},
"encoding": {"y": {"field": "cut", "type": "quantitative"}}},
{"data": {"values": [{}]}, "mark": {"type": "rule", "color": "#333", "strokeWidth": 1},
"encoding": {"y": {"datum": 0, "type": "quantitative"}}}
]},
{"layer": [
{"data": {"name": "pie"}, "mark": {"type": "arc", "outerRadius": 73},
"encoding": {
"x": {"datum": 0.7405, "type": "quantitative", "scale": {"domain": [0, 1], "nice": false, "zero": false}, "axis": null},
"y": {"datum": 0.737, "type": "quantitative", "scale": {"domain": [0, 1], "nice": false, "zero": false}, "axis": null},
"theta": {"field": "p", "type": "quantitative", "stack": true},
"order": {"field": "o", "type": "quantitative"},
"color": {"field": "r", "type": "nominal"}
}},
{"data": {"name": "pie"}, "mark": {"type": "text", "radius": 49, "fontSize": 13, "color": "white"},
"encoding": {
"x": {"datum": 0.7405, "type": "quantitative"},
"y": {"datum": 0.737, "type": "quantitative"},
"theta": {"field": "p", "type": "quantitative", "stack": true},
"order": {"field": "o", "type": "quantitative"},
"text": {"field": "p", "type": "quantitative", "format": ".2%"}
}},
{"data": {"values": [{"t": "n = 61"}]}, "mark": {"type": "text", "fontSize": 12.5, "color": "#222"},
"encoding": {"x": {"datum": 0.931, "type": "quantitative"}, "y": {"datum": 0.752, "type": "quantitative"}, "text": {"field": "t"}}},
{"data": {"values": [{"t": "a"}]}, "mark": {"type": "text", "fontSize": 18, "fontWeight": "bold", "align": "left", "color": "#111"},
"encoding": {"x": {"datum": -0.125, "type": "quantitative"}, "y": {"datum": 0.966, "type": "quantitative"}, "text": {"field": "t"}}}
]}
]
}
]},
{"spacing": 4, "hconcat": [
{"width": 1, "height": 1, "data": {"values": []}, "mark": {"type": "point"}, "encoding": {}},
{
"spacing": 0,
"vconcat": [
{"spacing": 35.5, "hconcat": [
{"width": 274, "height": 26, "data": {"values": [{"t": "Discovery Cohort"}]},
"layer": [
{"mark": {"type": "rect", "color": "#EBEBEB"}, "encoding": {"x": {"datum": 0.0201, "type": "quantitative", "scale": {"domain": [0, 1], "nice": false}, "axis": null}, "x2": {"datum": 0.998}, "y": {"datum": 0, "type": "quantitative", "scale": {"domain": [0, 1], "nice": false}, "axis": null}, "y2": {"datum": 1}}},
{"mark": {"type": "text", "fontSize": 11.5, "color": "#222"}, "encoding": {"x": {"datum": 0.469, "type": "quantitative"}, "y": {"datum": 0.5, "type": "quantitative"}, "text": {"field": "t"}}},
{"mark": {"type": "text", "fontSize": 18, "fontWeight": "bold", "align": "left", "color": "#111"}, "encoding": {"x": {"datum": -0.1405, "type": "quantitative"}, "y": {"datum": 0.55, "type": "quantitative"}, "text": {"value": "b"}}}
]},
{"width": 266, "height": 26, "data": {"values": [{"t": "Validation Cohort"}]},
"layer": [
{"mark": {"type": "rect", "color": "#EBEBEB"}, "encoding": {"x": {"datum": 0, "type": "quantitative", "scale": {"domain": [0, 1], "nice": false}, "axis": null}, "x2": {"datum": 1}, "y": {"datum": 0, "type": "quantitative", "scale": {"domain": [0, 1], "nice": false}, "axis": null}, "y2": {"datum": 1}}},
{"mark": {"type": "text", "fontSize": 11.5, "color": "#222"}, "encoding": {"x": {"datum": 0.485, "type": "quantitative"}, "y": {"datum": 0.5, "type": "quantitative"}, "text": {"field": "t"}}},
{"mark": {"type": "text", "fontSize": 18, "fontWeight": "bold", "align": "left", "color": "#111"}, "encoding": {"x": {"datum": -0.184, "type": "quantitative"}, "y": {"datum": 0.55, "type": "quantitative"}, "text": {"value": "c"}}}
]}
]},
{"spacing": 33, "hconcat": [
{"spacing": 12, "vconcat": [
{"spacing": 5, "hconcat": [
{"width": 121, "height": 121, "view": {"stroke": "#444"}, "layer": [
{"data": {"name": "minor"}, "mark": {"type": "rule", "color": "#cfcfcf", "strokeDash": [1.5, 1.5], "strokeWidth": 0.8}, "encoding": {"x": {"field": "gv", "type": "quantitative", "scale": {"domain": [-4, 104], "nice": false, "zero": false}, "axis": {"values": [0, 20, 40, 60, 80, 100], "tickCount": 12, "grid": true, "gridDash": [1.5, 1.5], "gridColor": "#cfcfcf", "gridWidth": 0.8, "domain": false, "tickSize": 4, "tickColor": "#333", "labelFontSize": 11, "labelColor": "#222", "labelPadding": 1, "labelFlush": false, "labelOverlap": false, "title": "Specificity (%)", "titleFontSize": 11.5, "titleFontWeight": "normal", "titleColor": "#222", "titlePadding": 2}}}},
{"data": {"name": "minor"}, "mark": {"type": "rule", "color": "#cfcfcf", "strokeDash": [1.5, 1.5], "strokeWidth": 0.8}, "encoding": {"y": {"field": "gv", "type": "quantitative", "scale": {"domain": [-4, 104], "nice": false, "zero": false}, "axis": {"values": [0, 20, 40, 60, 80, 100], "tickCount": 12, "grid": true, "gridDash": [1.5, 1.5], "gridColor": "#cfcfcf", "gridWidth": 0.8, "domain": false, "tickSize": 4, "tickColor": "#333", "labelFontSize": 11, "labelColor": "#222", "labelPadding": 2, "labelAngle": -90, "labelAlign": "center", "labelBaseline": "bottom", "labelFlush": false, "labelOverlap": false, "title": "Sensitivity (%)", "titleFontSize": 11.5, "titleFontWeight": "normal", "titleColor": "#222", "titlePadding": 4}}}},
{"data": {"values": [{}]}, "mark": {"type": "rule", "color": "#aaaaaa"}, "encoding": {"x": {"datum": 0, "type": "quantitative"}, "y": {"datum": 0, "type": "quantitative"}, "x2": {"datum": 100}, "y2": {"datum": 100}}},
{"data": {"name": "rocD"}, "transform": [{"filter": "datum.g === 'SIX2' && datum.k === 'ci'"}], "mark": {"type": "rule", "color": "#DA70D6", "opacity": 0.35, "strokeWidth": 1.2}, "encoding": {"x": {"field": "x", "type": "quantitative"}, "y": {"field": "lo", "type": "quantitative"}, "y2": {"field": "hi"}}},
{"data": {"name": "rocD"}, "transform": [{"filter": "datum.g === 'SIX2' && datum.k === 'c'"}], "mark": {"type": "line", "color": "#DA70D6", "strokeWidth": 2}, "encoding": {"x": {"field": "x", "type": "quantitative"}, "y": {"field": "y", "type": "quantitative"}}},
{"data": {"name": "rocD"}, "transform": [{"filter": "datum.g === 'SIX2' && datum.k === 'a'"}], "mark": {"type": "text", "color": "#DA70D6", "fontSize": 12.5}, "encoding": {"x": {"datum": 66, "type": "quantitative"}, "y": {"datum": 32, "type": "quantitative"}, "text": {"field": "g"}}},
{"data": {"name": "rocD"}, "transform": [{"filter": "datum.g === 'SIX2' && datum.k === 'a'"}], "mark": {"type": "text", "color": "#DA70D6", "fontSize": 12.5}, "encoding": {"x": {"datum": 66, "type": "quantitative"}, "y": {"datum": 18, "type": "quantitative"}, "text": {"field": "auc"}}}
]},
{"width": 121, "height": 121, "view": {"stroke": "#444"}, "layer": [
{"data": {"name": "minor"}, "mark": {"type": "rule", "color": "#cfcfcf", "strokeDash": [1.5, 1.5], "strokeWidth": 0.8}, "encoding": {"x": {"field": "gv", "type": "quantitative", "scale": {"domain": [-4, 104], "nice": false, "zero": false}, "axis": {"values": [0, 20, 40, 60, 80, 100], "tickCount": 12, "grid": true, "gridDash": [1.5, 1.5], "gridColor": "#cfcfcf", "gridWidth": 0.8, "domain": false, "tickSize": 4, "tickColor": "#333", "labelFontSize": 11, "labelColor": "#222", "labelPadding": 1, "labelFlush": false, "labelOverlap": false, "title": "Specificity (%)", "titleFontSize": 11.5, "titleFontWeight": "normal", "titleColor": "#222", "titlePadding": 2}}}},
{"data": {"name": "minor"}, "mark": {"type": "rule", "color": "#cfcfcf", "strokeDash": [1.5, 1.5], "strokeWidth": 0.8}, "encoding": {"y": {"field": "gv", "type": "quantitative", "scale": {"domain": [-4, 104], "nice": false, "zero": false}, "axis": {"values": [0, 20, 40, 60, 80, 100], "tickCount": 12, "grid": true, "gridDash": [1.5, 1.5], "gridColor": "#cfcfcf", "gridWidth": 0.8, "domain": false, "tickSize": 4, "tickColor": "#333", "labelFontSize": 11, "labelColor": "#222", "labelPadding": 2, "labelAngle": -90, "labelAlign": "center", "labelBaseline": "bottom", "labelFlush": false, "labelOverlap": false, "title": "Sensitivity (%)", "titleFontSize": 11.5, "titleFontWeight": "normal", "titleColor": "#222", "titlePadding": 4}}}},
{"data": {"values": [{}]}, "mark": {"type": "rule", "color": "#aaaaaa"}, "encoding": {"x": {"datum": 0, "type": "quantitative"}, "y": {"datum": 0, "type": "quantitative"}, "x2": {"datum": 100}, "y2": {"datum": 100}}},
{"data": {"name": "rocD"}, "transform": [{"filter": "datum.g === 'PARP3' && datum.k === 'ci'"}], "mark": {"type": "rule", "color": "#F9B044", "opacity": 0.35, "strokeWidth": 1.2}, "encoding": {"x": {"field": "x", "type": "quantitative"}, "y": {"field": "lo", "type": "quantitative"}, "y2": {"field": "hi"}}},
{"data": {"name": "rocD"}, "transform": [{"filter": "datum.g === 'PARP3' && datum.k === 'c'"}], "mark": {"type": "line", "color": "#F9B044", "strokeWidth": 2}, "encoding": {"x": {"field": "x", "type": "quantitative"}, "y": {"field": "y", "type": "quantitative"}}},
{"data": {"name": "rocD"}, "transform": [{"filter": "datum.g === 'PARP3' && datum.k === 'a'"}], "mark": {"type": "text", "color": "#F9B044", "fontSize": 12.5}, "encoding": {"x": {"datum": 62, "type": "quantitative"}, "y": {"datum": 32, "type": "quantitative"}, "text": {"field": "g"}}},
{"data": {"name": "rocD"}, "transform": [{"filter": "datum.g === 'PARP3' && datum.k === 'a'"}], "mark": {"type": "text", "color": "#F9B044", "fontSize": 12.5}, "encoding": {"x": {"datum": 62, "type": "quantitative"}, "y": {"datum": 18, "type": "quantitative"}, "text": {"field": "auc"}}}
]}
]},
{"spacing": 5, "hconcat": [
{"width": 121, "height": 121, "view": {"stroke": "#444"}, "layer": [
{"data": {"name": "minor"}, "mark": {"type": "rule", "color": "#cfcfcf", "strokeDash": [1.5, 1.5], "strokeWidth": 0.8}, "encoding": {"x": {"field": "gv", "type": "quantitative", "scale": {"domain": [-4, 104], "nice": false, "zero": false}, "axis": {"values": [0, 20, 40, 60, 80, 100], "tickCount": 12, "grid": true, "gridDash": [1.5, 1.5], "gridColor": "#cfcfcf", "gridWidth": 0.8, "domain": false, "tickSize": 4, "tickColor": "#333", "labelFontSize": 11, "labelColor": "#222", "labelPadding": 1, "labelFlush": false, "labelOverlap": false, "title": "Specificity (%)", "titleFontSize": 11.5, "titleFontWeight": "normal", "titleColor": "#222", "titlePadding": 2}}}},
{"data": {"name": "minor"}, "mark": {"type": "rule", "color": "#cfcfcf", "strokeDash": [1.5, 1.5], "strokeWidth": 0.8}, "encoding": {"y": {"field": "gv", "type": "quantitative", "scale": {"domain": [-4, 104], "nice": false, "zero": false}, "axis": {"values": [0, 20, 40, 60, 80, 100], "tickCount": 12, "grid": true, "gridDash": [1.5, 1.5], "gridColor": "#cfcfcf", "gridWidth": 0.8, "domain": false, "tickSize": 4, "tickColor": "#333", "labelFontSize": 11, "labelColor": "#222", "labelPadding": 2, "labelAngle": -90, "labelAlign": "center", "labelBaseline": "bottom", "labelFlush": false, "labelOverlap": false, "title": "Sensitivity (%)", "titleFontSize": 11.5, "titleFontWeight": "normal", "titleColor": "#222", "titlePadding": 4}}}},
{"data": {"values": [{}]}, "mark": {"type": "rule", "color": "#aaaaaa"}, "encoding": {"x": {"datum": 0, "type": "quantitative"}, "y": {"datum": 0, "type": "quantitative"}, "x2": {"datum": 100}, "y2": {"datum": 100}}},
{"data": {"name": "rocD"}, "transform": [{"filter": "datum.g === 'KLF9' && datum.k === 'ci'"}], "mark": {"type": "rule", "color": "#4A9236", "opacity": 0.35, "strokeWidth": 1.2}, "encoding": {"x": {"field": "x", "type": "quantitative"}, "y": {"field": "lo", "type": "quantitative"}, "y2": {"field": "hi"}}},
{"data": {"name": "rocD"}, "transform": [{"filter": "datum.g === 'KLF9' && datum.k === 'c'"}], "mark": {"type": "line", "color": "#4A9236", "strokeWidth": 2}, "encoding": {"x": {"field": "x", "type": "quantitative"}, "y": {"field": "y", "type": "quantitative"}}},
{"data": {"name": "rocD"}, "transform": [{"filter": "datum.g === 'KLF9' && datum.k === 'a'"}], "mark": {"type": "text", "color": "#4A9236", "fontSize": 12.5}, "encoding": {"x": {"datum": 64, "type": "quantitative"}, "y": {"datum": 32, "type": "quantitative"}, "text": {"field": "g"}}},
{"data": {"name": "rocD"}, "transform": [{"filter": "datum.g === 'KLF9' && datum.k === 'a'"}], "mark": {"type": "text", "color": "#4A9236", "fontSize": 12.5}, "encoding": {"x": {"datum": 64, "type": "quantitative"}, "y": {"datum": 18, "type": "quantitative"}, "text": {"field": "auc"}}}
]},
{"width": 121, "height": 121, "view": {"stroke": "#444"}, "layer": [
{"data": {"name": "minor"}, "mark": {"type": "rule", "color": "#cfcfcf", "strokeDash": [1.5, 1.5], "strokeWidth": 0.8}, "encoding": {"x": {"field": "gv", "type": "quantitative", "scale": {"domain": [-4, 104], "nice": false, "zero": false}, "axis": {"values": [0, 20, 40, 60, 80, 100], "tickCount": 12, "grid": true, "gridDash": [1.5, 1.5], "gridColor": "#cfcfcf", "gridWidth": 0.8, "domain": false, "tickSize": 4, "tickColor": "#333", "labelFontSize": 11, "labelColor": "#222", "labelPadding": 1, "labelFlush": false, "labelOverlap": false, "title": "Specificity (%)", "titleFontSize": 11.5, "titleFontWeight": "normal", "titleColor": "#222", "titlePadding": 2}}}},
{"data": {"name": "minor"}, "mark": {"type": "rule", "color": "#cfcfcf", "strokeDash": [1.5, 1.5], "strokeWidth": 0.8}, "encoding": {"y": {"field": "gv", "type": "quantitative", "scale": {"domain": [-4, 104], "nice": false, "zero": false}, "axis": {"values": [0, 20, 40, 60, 80, 100], "tickCount": 12, "grid": true, "gridDash": [1.5, 1.5], "gridColor": "#cfcfcf", "gridWidth": 0.8, "domain": false, "tickSize": 4, "tickColor": "#333", "labelFontSize": 11, "labelColor": "#222", "labelPadding": 2, "labelAngle": -90, "labelAlign": "center", "labelBaseline": "bottom", "labelFlush": false, "labelOverlap": false, "title": "Sensitivity (%)", "titleFontSize": 11.5, "titleFontWeight": "normal", "titleColor": "#222", "titlePadding": 4}}}},
{"data": {"values": [{}]}, "mark": {"type": "rule", "color": "#aaaaaa"}, "encoding": {"x": {"datum": 0, "type": "quantitative"}, "y": {"datum": 0, "type": "quantitative"}, "x2": {"datum": 100}, "y2": {"datum": 100}}},
{"data": {"name": "rocD"}, "transform": [{"filter": "datum.g === 'PODXL2' && datum.k === 'ci'"}], "mark": {"type": "rule", "color": "#2C5DAA", "opacity": 0.35, "strokeWidth": 1.2}, "encoding": {"x": {"field": "x", "type": "quantitative"}, "y": {"field": "lo", "type": "quantitative"}, "y2": {"field": "hi"}}},
{"data": {"name": "rocD"}, "transform": [{"filter": "datum.g === 'PODXL2' && datum.k === 'c'"}], "mark": {"type": "line", "color": "#2C5DAA", "strokeWidth": 2}, "encoding": {"x": {"field": "x", "type": "quantitative"}, "y": {"field": "y", "type": "quantitative"}}},
{"data": {"name": "rocD"}, "transform": [{"filter": "datum.g === 'PODXL2' && datum.k === 'a'"}], "mark": {"type": "text", "color": "#2C5DAA", "fontSize": 12.5}, "encoding": {"x": {"datum": 70, "type": "quantitative"}, "y": {"datum": 32, "type": "quantitative"}, "text": {"field": "g"}}},
{"data": {"name": "rocD"}, "transform": [{"filter": "datum.g === 'PODXL2' && datum.k === 'a'"}], "mark": {"type": "text", "color": "#2C5DAA", "fontSize": 12.5}, "encoding": {"x": {"datum": 70, "type": "quantitative"}, "y": {"datum": 18, "type": "quantitative"}, "text": {"field": "auc"}}}
]}
]}
]},
{"spacing": 12, "vconcat": [
{"spacing": 5, "hconcat": [
{"width": 121, "height": 121, "view": {"stroke": "#444"}, "layer": [
{"data": {"name": "minor"}, "mark": {"type": "rule", "color": "#cfcfcf", "strokeDash": [1.5, 1.5], "strokeWidth": 0.8}, "encoding": {"x": {"field": "gv", "type": "quantitative", "scale": {"domain": [-4, 104], "nice": false, "zero": false}, "axis": {"values": [0, 20, 40, 60, 80, 100], "tickCount": 12, "grid": true, "gridDash": [1.5, 1.5], "gridColor": "#cfcfcf", "gridWidth": 0.8, "domain": false, "tickSize": 4, "tickColor": "#333", "labelFontSize": 11, "labelColor": "#222", "labelPadding": 1, "labelFlush": false, "labelOverlap": false, "title": "Specificity (%)", "titleFontSize": 11.5, "titleFontWeight": "normal", "titleColor": "#222", "titlePadding": 2}}}},
{"data": {"name": "minor"}, "mark": {"type": "rule", "color": "#cfcfcf", "strokeDash": [1.5, 1.5], "strokeWidth": 0.8}, "encoding": {"y": {"field": "gv", "type": "quantitative", "scale": {"domain": [-4, 104], "nice": false, "zero": false}, "axis": {"values": [0, 20, 40, 60, 80, 100], "tickCount": 12, "grid": true, "gridDash": [1.5, 1.5], "gridColor": "#cfcfcf", "gridWidth": 0.8, "domain": false, "tickSize": 4, "tickColor": "#333", "labelFontSize": 11, "labelColor": "#222", "labelPadding": 2, "labelAngle": -90, "labelAlign": "center", "labelBaseline": "bottom", "labelFlush": false, "labelOverlap": false, "title": "Sensitivity (%)", "titleFontSize": 11.5, "titleFontWeight": "normal", "titleColor": "#222", "titlePadding": 4}}}},
{"data": {"values": [{}]}, "mark": {"type": "rule", "color": "#aaaaaa"}, "encoding": {"x": {"datum": 0, "type": "quantitative"}, "y": {"datum": 0, "type": "quantitative"}, "x2": {"datum": 100}, "y2": {"datum": 100}}},
{"data": {"name": "rocV"}, "transform": [{"filter": "datum.g === 'SIX2' && datum.k === 'ci'"}], "mark": {"type": "rule", "color": "#C062D8", "opacity": 0.35, "strokeWidth": 1.2}, "encoding": {"x": {"field": "x", "type": "quantitative"}, "y": {"field": "lo", "type": "quantitative"}, "y2": {"field": "hi"}}},
{"data": {"name": "rocV"}, "transform": [{"filter": "datum.g === 'SIX2' && datum.k === 'c'"}], "mark": {"type": "line", "color": "#C062D8", "strokeWidth": 2}, "encoding": {"x": {"field": "x", "type": "quantitative"}, "y": {"field": "y", "type": "quantitative"}}},
{"data": {"name": "rocV"}, "transform": [{"filter": "datum.g === 'SIX2' && datum.k === 'a'"}], "mark": {"type": "text", "color": "#C062D8", "fontSize": 12.5}, "encoding": {"x": {"datum": 63, "type": "quantitative"}, "y": {"datum": 32, "type": "quantitative"}, "text": {"field": "g"}}},
{"data": {"name": "rocV"}, "transform": [{"filter": "datum.g === 'SIX2' && datum.k === 'a'"}], "mark": {"type": "text", "color": "#C062D8", "fontSize": 12.5}, "encoding": {"x": {"datum": 63, "type": "quantitative"}, "y": {"datum": 18, "type": "quantitative"}, "text": {"field": "auc"}}}
]},
{"width": 121, "height": 121, "view": {"stroke": "#444"}, "layer": [
{"data": {"name": "minor"}, "mark": {"type": "rule", "color": "#cfcfcf", "strokeDash": [1.5, 1.5], "strokeWidth": 0.8}, "encoding": {"x": {"field": "gv", "type": "quantitative", "scale": {"domain": [-4, 104], "nice": false, "zero": false}, "axis": {"values": [0, 20, 40, 60, 80, 100], "tickCount": 12, "grid": true, "gridDash": [1.5, 1.5], "gridColor": "#cfcfcf", "gridWidth": 0.8, "domain": false, "tickSize": 4, "tickColor": "#333", "labelFontSize": 11, "labelColor": "#222", "labelPadding": 1, "labelFlush": false, "labelOverlap": false, "title": "Specificity (%)", "titleFontSize": 11.5, "titleFontWeight": "normal", "titleColor": "#222", "titlePadding": 2}}}},
{"data": {"name": "minor"}, "mark": {"type": "rule", "color": "#cfcfcf", "strokeDash": [1.5, 1.5], "strokeWidth": 0.8}, "encoding": {"y": {"field": "gv", "type": "quantitative", "scale": {"domain": [-4, 104], "nice": false, "zero": false}, "axis": {"values": [0, 20, 40, 60, 80, 100], "tickCount": 12, "grid": true, "gridDash": [1.5, 1.5], "gridColor": "#cfcfcf", "gridWidth": 0.8, "domain": false, "tickSize": 4, "tickColor": "#333", "labelFontSize": 11, "labelColor": "#222", "labelPadding": 2, "labelAngle": -90, "labelAlign": "center", "labelBaseline": "bottom", "labelFlush": false, "labelOverlap": false, "title": "Sensitivity (%)", "titleFontSize": 11.5, "titleFontWeight": "normal", "titleColor": "#222", "titlePadding": 4}}}},
{"data": {"values": [{}]}, "mark": {"type": "rule", "color": "#aaaaaa"}, "encoding": {"x": {"datum": 0, "type": "quantitative"}, "y": {"datum": 0, "type": "quantitative"}, "x2": {"datum": 100}, "y2": {"datum": 100}}},
{"data": {"name": "rocV"}, "transform": [{"filter": "datum.g === 'PARP3' && datum.k === 'ci'"}], "mark": {"type": "rule", "color": "#F9B044", "opacity": 0.35, "strokeWidth": 1.2}, "encoding": {"x": {"field": "x", "type": "quantitative"}, "y": {"field": "lo", "type": "quantitative"}, "y2": {"field": "hi"}}},
{"data": {"name": "rocV"}, "transform": [{"filter": "datum.g === 'PARP3' && datum.k === 'c'"}], "mark": {"type": "line", "color": "#F9B044", "strokeWidth": 2}, "encoding": {"x": {"field": "x", "type": "quantitative"}, "y": {"field": "y", "type": "quantitative"}}},
{"data": {"name": "rocV"}, "transform": [{"filter": "datum.g === 'PARP3' && datum.k === 'a'"}], "mark": {"type": "text", "color": "#F9B044", "fontSize": 12.5}, "encoding": {"x": {"datum": 63, "type": "quantitative"}, "y": {"datum": 32, "type": "quantitative"}, "text": {"field": "g"}}},
{"data": {"name": "rocV"}, "transform": [{"filter": "datum.g === 'PARP3' && datum.k === 'a'"}], "mark": {"type": "text", "color": "#F9B044", "fontSize": 12.5}, "encoding": {"x": {"datum": 63, "type": "quantitative"}, "y": {"datum": 18, "type": "quantitative"}, "text": {"field": "auc"}}}
]}
]},
{"spacing": 5, "hconcat": [
{"width": 121, "height": 121, "view": {"stroke": "#444"}, "layer": [
{"data": {"name": "minor"}, "mark": {"type": "rule", "color": "#cfcfcf", "strokeDash": [1.5, 1.5], "strokeWidth": 0.8}, "encoding": {"x": {"field": "gv", "type": "quantitative", "scale": {"domain": [-4, 104], "nice": false, "zero": false}, "axis": {"values": [0, 20, 40, 60, 80, 100], "tickCount": 12, "grid": true, "gridDash": [1.5, 1.5], "gridColor": "#cfcfcf", "gridWidth": 0.8, "domain": false, "tickSize": 4, "tickColor": "#333", "labelFontSize": 11, "labelColor": "#222", "labelPadding": 1, "labelFlush": false, "labelOverlap": false, "title": "Specificity (%)", "titleFontSize": 11.5, "titleFontWeight": "normal", "titleColor": "#222", "titlePadding": 2}}}},
{"data": {"name": "minor"}, "mark": {"type": "rule", "color": "#cfcfcf", "strokeDash": [1.5, 1.5], "strokeWidth": 0.8}, "encoding": {"y": {"field": "gv", "type": "quantitative", "scale": {"domain": [-4, 104], "nice": false, "zero": false}, "axis": {"values": [0, 20, 40, 60, 80, 100], "tickCount": 12, "grid": true, "gridDash": [1.5, 1.5], "gridColor": "#cfcfcf", "gridWidth": 0.8, "domain": false, "tickSize": 4, "tickColor": "#333", "labelFontSize": 11, "labelColor": "#222", "labelPadding": 2, "labelAngle": -90, "labelAlign": "center", "labelBaseline": "bottom", "labelFlush": false, "labelOverlap": false, "title": "Sensitivity (%)", "titleFontSize": 11.5, "titleFontWeight": "normal", "titleColor": "#222", "titlePadding": 4}}}},
{"data": {"values": [{}]}, "mark": {"type": "rule", "color": "#aaaaaa"}, "encoding": {"x": {"datum": 0, "type": "quantitative"}, "y": {"datum": 0, "type": "quantitative"}, "x2": {"datum": 100}, "y2": {"datum": 100}}},
{"data": {"name": "rocV"}, "transform": [{"filter": "datum.g === 'KLF9' && datum.k === 'ci'"}], "mark": {"type": "rule", "color": "#4A9236", "opacity": 0.35, "strokeWidth": 1.2}, "encoding": {"x": {"field": "x", "type": "quantitative"}, "y": {"field": "lo", "type": "quantitative"}, "y2": {"field": "hi"}}},
{"data": {"name": "rocV"}, "transform": [{"filter": "datum.g === 'KLF9' && datum.k === 'c'"}], "mark": {"type": "line", "color": "#4A9236", "strokeWidth": 2}, "encoding": {"x": {"field": "x", "type": "quantitative"}, "y": {"field": "y", "type": "quantitative"}}},
{"data": {"name": "rocV"}, "transform": [{"filter": "datum.g === 'KLF9' && datum.k === 'a'"}], "mark": {"type": "text", "color": "#4A9236", "fontSize": 12.5}, "encoding": {"x": {"datum": 70, "type": "quantitative"}, "y": {"datum": 32, "type": "quantitative"}, "text": {"field": "g"}}},
{"data": {"name": "rocV"}, "transform": [{"filter": "datum.g === 'KLF9' && datum.k === 'a'"}], "mark": {"type": "text", "color": "#4A9236", "fontSize": 12.5}, "encoding": {"x": {"datum": 70, "type": "quantitative"}, "y": {"datum": 18, "type": "quantitative"}, "text": {"field": "auc"}}}
]},
{"width": 121, "height": 121, "view": {"stroke": "#444"}, "layer": [
{"data": {"name": "minor"}, "mark": {"type": "rule", "color": "#cfcfcf", "strokeDash": [1.5, 1.5], "strokeWidth": 0.8}, "encoding": {"x": {"field": "gv", "type": "quantitative", "scale": {"domain": [-4, 104], "nice": false, "zero": false}, "axis": {"values": [0, 20, 40, 60, 80, 100], "tickCount": 12, "grid": true, "gridDash": [1.5, 1.5], "gridColor": "#cfcfcf", "gridWidth": 0.8, "domain": false, "tickSize": 4, "tickColor": "#333", "labelFontSize": 11, "labelColor": "#222", "labelPadding": 1, "labelFlush": false, "labelOverlap": false, "title": "Specificity (%)", "titleFontSize": 11.5, "titleFontWeight": "normal", "titleColor": "#222", "titlePadding": 2}}}},
{"data": {"name": "minor"}, "mark": {"type": "rule", "color": "#cfcfcf", "strokeDash": [1.5, 1.5], "strokeWidth": 0.8}, "encoding": {"y": {"field": "gv", "type": "quantitative", "scale": {"domain": [-4, 104], "nice": false, "zero": false}, "axis": {"values": [0, 20, 40, 60, 80, 100], "tickCount": 12, "grid": true, "gridDash": [1.5, 1.5], "gridColor": "#cfcfcf", "gridWidth": 0.8, "domain": false, "tickSize": 4, "tickColor": "#333", "labelFontSize": 11, "labelColor": "#222", "labelPadding": 2, "labelAngle": -90, "labelAlign": "center", "labelBaseline": "bottom", "labelFlush": false, "labelOverlap": false, "title": "Sensitivity (%)", "titleFontSize": 11.5, "titleFontWeight": "normal", "titleColor": "#222", "titlePadding": 4}}}},
{"data": {"values": [{}]}, "mark": {"type": "rule", "color": "#aaaaaa"}, "encoding": {"x": {"datum": 0, "type": "quantitative"}, "y": {"datum": 0, "type": "quantitative"}, "x2": {"datum": 100}, "y2": {"datum": 100}}},
{"data": {"name": "rocV"}, "transform": [{"filter": "datum.g === 'PODXL2' && datum.k === 'ci'"}], "mark": {"type": "rule", "color": "#2C5DAA", "opacity": 0.35, "strokeWidth": 1.2}, "encoding": {"x": {"field": "x", "type": "quantitative"}, "y": {"field": "lo", "type": "quantitative"}, "y2": {"field": "hi"}}},
{"data": {"name": "rocV"}, "transform": [{"filter": "datum.g === 'PODXL2' && datum.k === 'c'"}], "mark": {"type": "line", "color": "#2C5DAA", "strokeWidth": 2}, "encoding": {"x": {"field": "x", "type": "quantitative"}, "y": {"field": "y", "type": "quantitative"}}},
{"data": {"name": "rocV"}, "transform": [{"filter": "datum.g === 'PODXL2' && datum.k === 'a'"}], "mark": {"type": "text", "color": "#2C5DAA", "fontSize": 12.5}, "encoding": {"x": {"datum": 67, "type": "quantitative"}, "y": {"datum": 32, "type": "quantitative"}, "text": {"field": "g"}}},
{"data": {"name": "rocV"}, "transform": [{"filter": "datum.g === 'PODXL2' && datum.k === 'a'"}], "mark": {"type": "text", "color": "#2C5DAA", "fontSize": 12.5}, "encoding": {"x": {"datum": 67, "type": "quantitative"}, "y": {"datum": 18, "type": "quantitative"}, "text": {"field": "auc"}}}
]}
]}
]}
]}
]
}
]},
{"spacing": 0, "resolve": {"scale": {"color": "independent"}, "legend": {"color": "independent"}}, "hconcat": [
{"width": 1, "height": 1, "data": {"values": []}, "mark": {"type": "point"}, "encoding": {}},
{
"width": 622, "height": 245,
"resolve": {"scale": {"x": "independent", "y": "independent", "color": "independent"}, "legend": {"color": "independent"}},
"layer": [
{"data": {"name": "cd"}, "mark": {"type": "rule", "color": "#a3a3a3", "strokeWidth": 0.9},
"encoding": {"x": {"field": "a", "type": "quantitative", "scale": {"domain": [-0.5, 60.5], "nice": false, "zero": false}, "axis": null},
"y": {"field": "ha", "type": "quantitative", "scale": {"domain": [-208.5, 36.5], "nice": false, "zero": false}, "axis": null}, "y2": {"field": "h"}}},
{"data": {"name": "cd"}, "mark": {"type": "rule", "color": "#a3a3a3", "strokeWidth": 0.9},
"encoding": {"x": {"field": "b", "type": "quantitative", "scale": {"domain": [-0.5, 60.5], "nice": false, "zero": false}, "axis": null},
"y": {"field": "hb", "type": "quantitative", "scale": {"domain": [-208.5, 36.5], "nice": false, "zero": false}, "axis": null}, "y2": {"field": "h"}}},
{"data": {"name": "cd"}, "mark": {"type": "rule", "color": "#a3a3a3", "strokeWidth": 0.9},
"encoding": {"x": {"field": "a", "type": "quantitative", "scale": {"domain": [-0.5, 60.5], "nice": false, "zero": false}, "axis": null}, "x2": {"field": "b"},
"y": {"field": "h", "type": "quantitative", "scale": {"domain": [-208.5, 36.5], "nice": false, "zero": false}, "axis": null}}},
{"data": {"name": "rd"}, "mark": {"type": "rule", "color": "#a3a3a3", "strokeWidth": 0.9},
"encoding": {"x": {"field": "ha", "type": "quantitative", "scale": {"domain": [-4, -626], "nice": false, "zero": false}, "axis": null}, "x2": {"field": "h"},
"y": {"field": "a", "type": "quantitative", "scale": {"domain": [0, 7.695], "nice": false, "zero": false}, "axis": null}}},
{"data": {"name": "rd"}, "mark": {"type": "rule", "color": "#a3a3a3", "strokeWidth": 0.9},
"encoding": {"x": {"field": "hb", "type": "quantitative", "scale": {"domain": [-4, -626], "nice": false, "zero": false}, "axis": null}, "x2": {"field": "h"},
"y": {"field": "b", "type": "quantitative", "scale": {"domain": [0, 7.695], "nice": false, "zero": false}, "axis": null}}},
{"data": {"name": "rd"}, "mark": {"type": "rule", "color": "#a3a3a3", "strokeWidth": 0.9},
"encoding": {"x": {"field": "h", "type": "quantitative", "scale": {"domain": [-4, -626], "nice": false, "zero": false}, "axis": null},
"y": {"field": "a", "type": "quantitative", "scale": {"domain": [0, 7.695], "nice": false, "zero": false}, "axis": null}, "y2": {"field": "b"}}},
{"data": {"name": "hm"}, "mark": {"type": "rect"},
"encoding": {"x": {"field": "s", "type": "nominal", "sort": null, "scale": {"paddingInner": 0, "paddingOuter": 0}, "axis": null},
"y": {"datum": 6.34, "type": "quantitative", "scale": {"domain": [0, 7.695], "nice": false, "zero": false}, "axis": null}, "y2": {"datum": 6.53},
"color": {"field": "m", "type": "nominal", "scale": {"domain": ["mPD", "mSD", "mPR", "mCR"], "range": ["#2B6770", "#5EA833", "#89ABDD", "#4062A8"]},
"legend": {"title": "mRECIST", "orient": "none", "legendX": 449, "legendY": 283, "symbolType": "M-1.67,-1H1.67V1H-1.67Z", "symbolSize": 81, "rowPadding": 0, "labelFontSize": 7.5, "titleFontSize": 7.5, "titleFontWeight": "normal", "titlePadding": 3, "labelOffset": 8, "symbolStrokeWidth": 0, "labelColor": "#333", "titleColor": "#222"}}}},
{"data": {"name": "hm"}, "mark": {"type": "rect"},
"encoding": {"x": {"field": "s", "type": "nominal", "sort": null, "scale": {"paddingInner": 0, "paddingOuter": 0}, "axis": null},
"y": {"datum": 6.06, "type": "quantitative", "scale": {"domain": [0, 7.695], "nice": false, "zero": false}, "axis": null}, "y2": {"datum": 6.28},
"color": {"field": "grp", "type": "nominal", "scale": {"domain": ["Relative Sensitive", "Intrinsic Resistance", "Stable"], "range": ["#1976C6", "#E0561C", "#F1B31F"]},
"legend": {"title": "Group", "orient": "none", "legendX": 319, "legendY": 283, "symbolType": "M-1.67,-1H1.67V1H-1.67Z", "symbolSize": 81, "rowPadding": 1, "labelFontSize": 7.5, "titleFontSize": 7.5, "titleFontWeight": "normal", "titlePadding": 5.5, "labelOffset": 8, "symbolStrokeWidth": 0, "labelColor": "#333", "titleColor": "#222"}}}},
{"data": {"name": "hm"},
"transform": [
{"fold": ["ERBB2", "CDK1", "ANKH", "HEPHL1", "ANK3", "SLC6A3"], "as": ["g", "v"]},
{"calculate": "5 - indexof(['ERBB2','CDK1','ANKH','HEPHL1','ANK3','SLC6A3'], datum.g)", "as": "b"},
{"calculate": "datum.b + 0.33 * abs(datum.v)", "as": "t"}
],
"mark": {"type": "rect", "opacity": 0.9},
"encoding": {"x": {"field": "s", "type": "nominal", "sort": null, "scale": {"paddingInner": 0.1, "paddingOuter": 0},
"axis": {"labelAngle": -90, "labelFontSize": 6, "labelColor": "#333", "ticks": false, "domain": false, "title": null, "labelPadding": 3, "labelOverlap": false}},
"y": {"field": "t", "type": "quantitative", "scale": {"domain": [0, 7.695], "nice": false, "zero": false}, "axis": null}, "y2": {"field": "b"},
"color": {"field": "v", "type": "quantitative", "scale": {"domain": [3, 2, 1, 0, -1, -2, -3], "range": ["#CC1F1F", "#E0694F", "#EDB584", "#F3ECB5", "#AAB6A6", "#7188B3", "#2146A8"]},
"legend": {"title": "Normalized CNV", "orient": "none", "legendX": 135, "legendY": 283, "direction": "horizontal", "gradientLength": 119, "gradientThickness": 9, "values": [3, 2, 1, 0, -1, -2, -3], "format": ".2f", "labelAlign": "center", "labelFontSize": 5.5, "labelOffset": 2, "labelOverlap": false, "titleFontSize": 7.5, "titleFontWeight": "normal", "titleAnchor": "middle", "titlePadding": 17, "gradientStrokeWidth": 0, "labelColor": "#333", "titleColor": "#222"}}}},
{"data": {"values": [{"g": "ERBB2"}, {"g": "CDK1"}, {"g": "ANKH"}, {"g": "HEPHL1"}, {"g": "ANK3"}, {"g": "SLC6A3"}]},
"transform": [{"calculate": "5 - indexof(['ERBB2','CDK1','ANKH','HEPHL1','ANK3','SLC6A3'], datum.g)", "as": "b"}],
"mark": {"type": "text", "align": "left", "baseline": "middle", "fontSize": 10.5, "dy": -8, "color": "#111"},
"encoding": {"x": {"datum": 60.87, "type": "quantitative", "scale": {"domain": [-0.5, 60.5], "nice": false, "zero": false}, "axis": null},
"y": {"field": "b", "type": "quantitative", "scale": {"domain": [0, 7.695], "nice": false, "zero": false}, "axis": null}, "text": {"field": "g"}}},
{"data": {"values": [{"t": "d"}]},
"mark": {"type": "text", "align": "left", "baseline": "middle", "fontSize": 18, "fontWeight": "bold", "color": "#111"},
"encoding": {"x": {"datum": -2.07, "type": "quantitative", "scale": {"domain": [-0.5, 60.5], "nice": false, "zero": false}, "axis": null},
"y": {"datum": 7.38, "type": "quantitative", "scale": {"domain": [0, 7.695], "nice": false, "zero": false}, "axis": null}, "text": {"field": "t"}}}
]
}
]}
]
}
